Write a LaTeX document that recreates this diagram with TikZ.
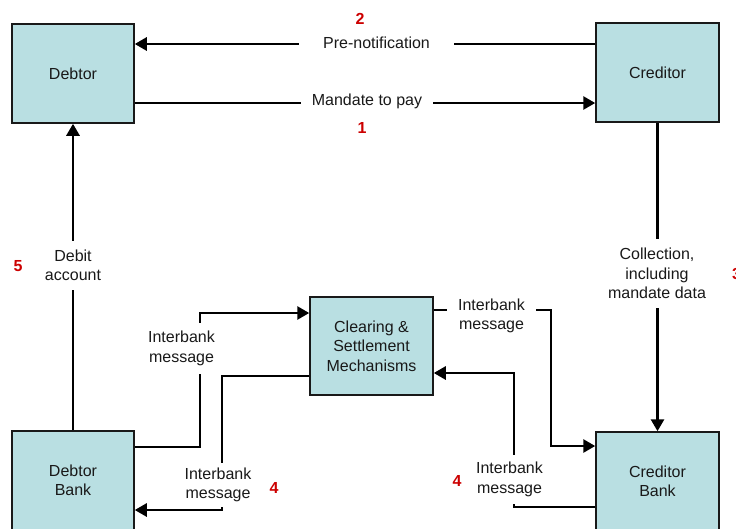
\documentclass[tikz,border=0pt]{standalone}
\usepackage{fontspec}
\setmainfont{Liberation Sans}
\usetikzlibrary{arrows.meta}
\definecolor{boxfill}{RGB}{185,223,226}
\definecolor{numred}{RGB}{204,0,0}
\definecolor{ink}{RGB}{25,25,25}
\newcommand{\lblfont}{\fontsize{16}{19.5}\selectfont}
\begin{document}
\begin{tikzpicture}[x=1pt,y=-1pt,
  party/.style={draw=ink, line width=1.5pt, fill=boxfill, minimum width=122pt,
    minimum height=99pt, align=center, inner sep=0pt, font=\lblfont, text=ink},
  flow/.style={line width=2.7pt, draw=black, -{Triangle[length=12pt,width=13pt]}},
  tag/.style={fill=white, align=center, font=\lblfont, text=ink, inner xsep=3pt, inner ysep=0pt},
  stepno/.style={text=numred, font=\lblfont\bfseries, inner sep=0pt}
]
\useasboundingbox (0,0) rectangle (736,528);
\clip (0,0) rectangle (736,528);

% parties and banks
\node[party] (debtor) at (73,73.5) {Debtor};
\node[party, minimum width=123pt] (creditor) at (657.5,72.5) {Creditor};
\node[party] (dbank) at (73,480.5) {Debtor\\Bank};
\node[party, minimum width=123pt] (cbank) at (657.5,481.5) {Creditor\\Bank};
\node[party, minimum width=123pt, minimum height=98pt] (csm) at (371.5,346)
  {Clearing \&\\Settlement\\Mechanisms};

% message flows
\draw[flow] (creditor.west |- 0,44) -- (debtor.east |- 0,44);
\draw[flow] (debtor.east |- 0,103) -- (creditor.west |- 0,103);
\draw[flow] (dbank.north) -- (debtor.south);
\draw[flow] (creditor.south) -- (cbank.north);
\draw[flow] (dbank.east |- 0,447) -| (200,313) -- (csm.west |- 0,313);
\draw[flow] (csm.west |- 0,376) -| (222,510) -- (dbank.east |- 0,510);
\draw[flow] (csm.east |- 0,310) -| (551,446) -- (cbank.west |- 0,446);
\draw[flow] (cbank.west |- 0,507) -| (514,373) -- (csm.east |- 0,373);

% flow labels (white backing breaks the lines)
\node[tag, inner xsep=24pt, inner ysep=3pt] (prenote) at (376.5,43) {Pre-notification};
\node[tag, inner xsep=11pt, inner ysep=3pt] (mandate) at (367,101) {Mandate to pay};
\node[tag, inner ysep=9pt] (debit) at (73,265.5) {Debit\\account};
\node[tag, inner ysep=9pt] (collect) at (657,273.5) {Collection,\\including\\mandate data};
\node[tag, inner ysep=8pt] (ibm1) at (181.5,348.5) {Interbank\\message};
\node[tag, inner ysep=5pt] (ibm2) at (218,485) {Interbank\\message};
\node[tag, inner xsep=11pt, inner ysep=2pt] (ibm3) at (491.5,316) {Interbank\\message};
\node[tag, inner ysep=7pt] (ibm4) at (509.5,479.5) {Interbank\\message};

% step numbers
\node[stepno] (s1) at (362,128) {1};
\node[stepno] (s2) at (360,19) {2};
\node[stepno] (s3) at (736.5,274) {3};
\node[stepno] (s4a) at (274,488) {4};
\node[stepno] (s4b) at (457,481) {4};
\node[stepno] (s5) at (18,266) {5};
\end{tikzpicture}
\end{document}
